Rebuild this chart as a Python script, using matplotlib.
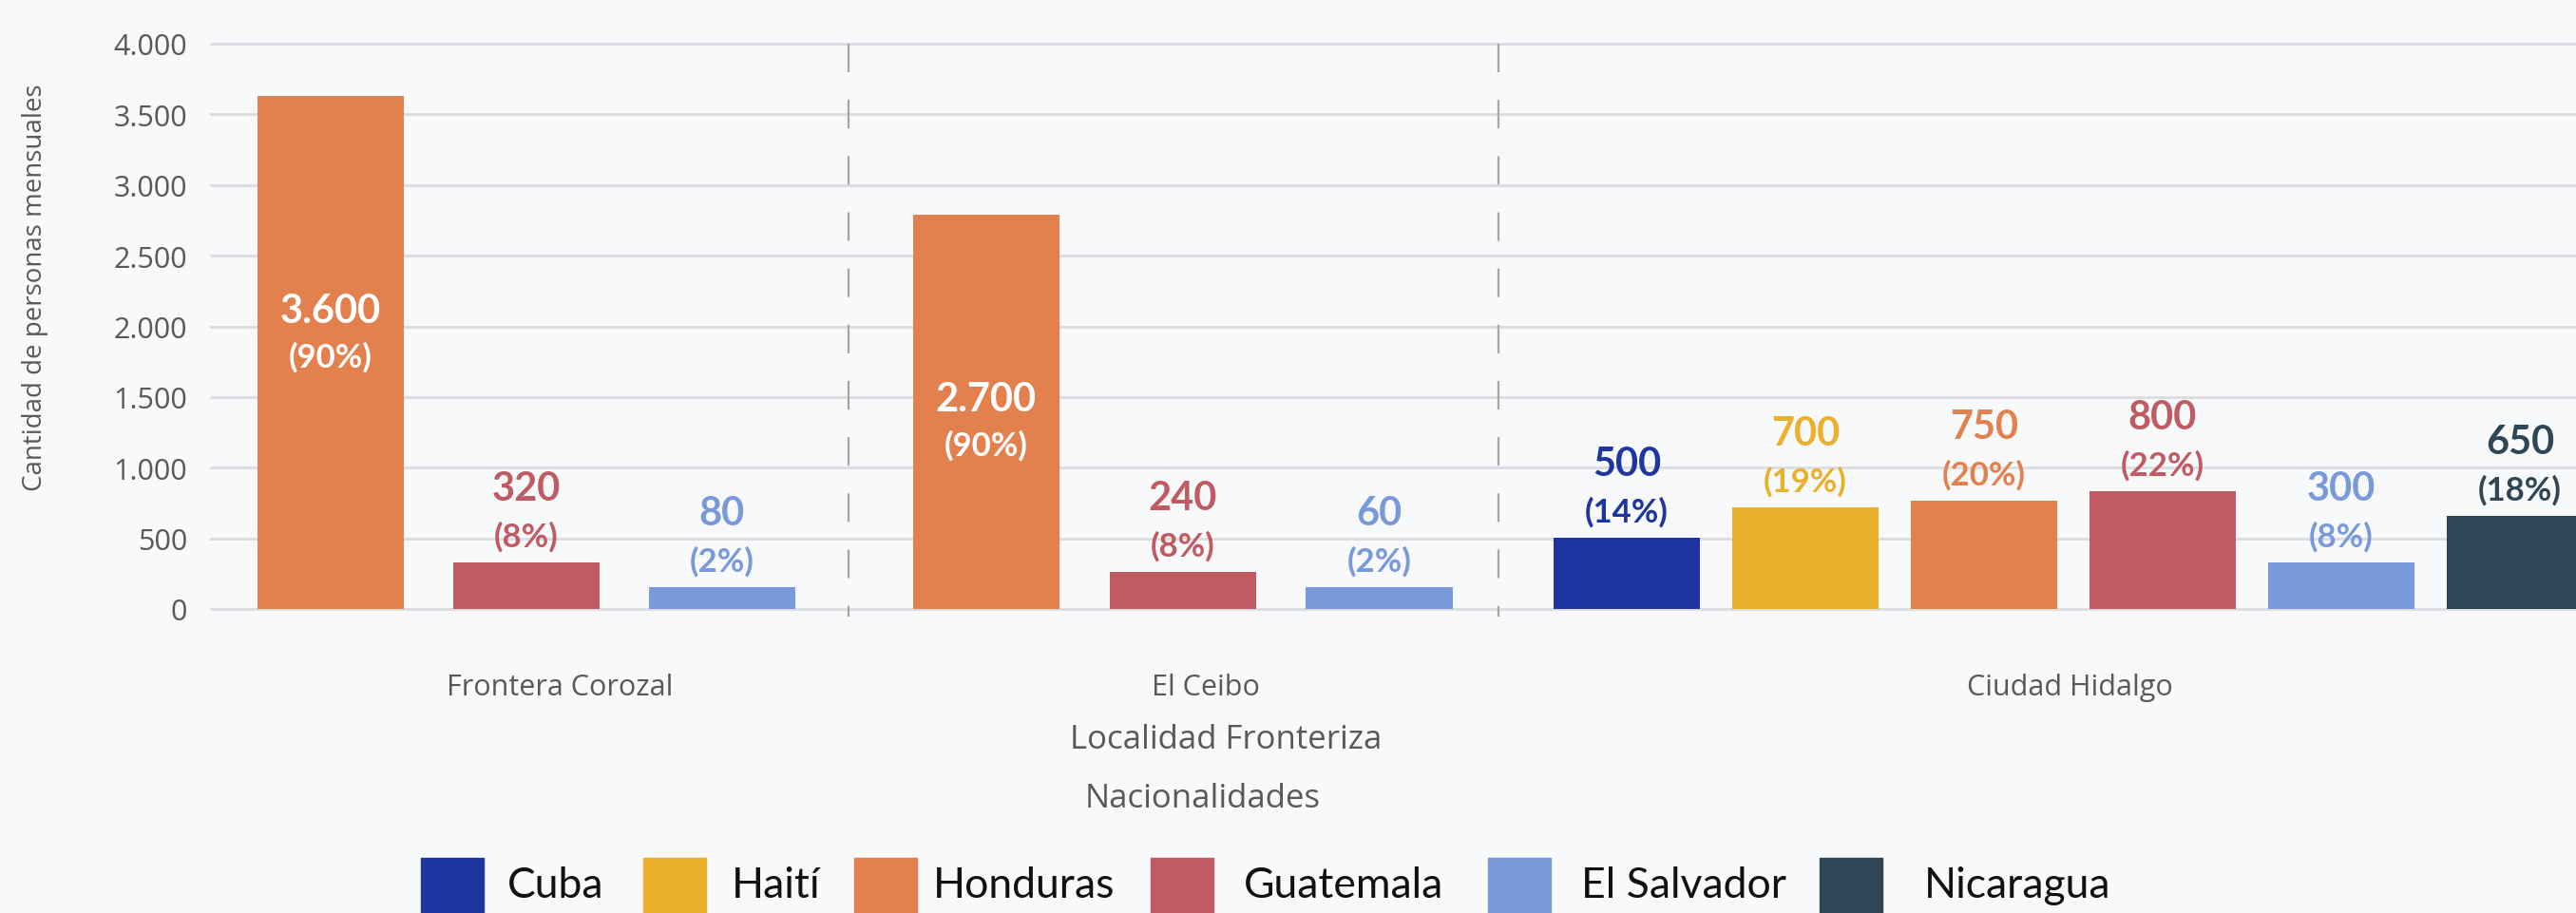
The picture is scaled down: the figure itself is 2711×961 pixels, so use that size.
import matplotlib
matplotlib.use('Agg')
import matplotlib.pyplot as plt
from matplotlib.patches import Rectangle
from matplotlib.transforms import blended_transform_factory

# data
groups = ['Frontera Corozal', 'El Ceibo', 'Ciudad Hidalgo']

frontera_nat = ['Honduras', 'Guatemala', 'El Salvador']
frontera_bar = [3630, 330, 155]
frontera_lbl = ['3.600', '320', '80']
frontera_pct = ['90%', '8%', '2%']

ceibo_nat = ['Honduras', 'Guatemala', 'El Salvador']
ceibo_bar = [2790, 262, 155]
ceibo_lbl = ['2.700', '240', '60']
ceibo_pct = ['90%', '8%', '2%']

hidalgo_nat = ['Cuba', 'Haití', 'Honduras', 'Guatemala', 'El Salvador', 'Nicaragua']
hidalgo_bar = [504, 719, 766, 833, 329, 659]
hidalgo_lbl = ['500', '700', '750', '800', '300', '650']
hidalgo_pct = ['14%', '19%', '20%', '22%', '8%', '18%']

legend_names = ['Cuba', 'Haití', 'Honduras', 'Guatemala', 'El Salvador', 'Nicaragua']
colors = {'Cuba': '#1f359f', 'Haití': '#eab02c', 'Honduras': '#e2814e',
          'Guatemala': '#c15b63', 'El Salvador': '#7899da', 'Nicaragua': '#2e4656'}

# layout
W, H = 2711, 962
bg = '#f8f9fb'
group_w = [3.57, 3.64, 6.43]
pitch = [1.096, 1.10, 1.0]
bar_shift = [-0.02, 0.05, 0.0]
label_shift = [0.17, 0.18, -0.02]
inside_shift = [14, -8]   # points, nudges the white labels inside the tall bars
bar_w = 0.82
gray = '#595959'

plt.rcParams['lines.scale_dashes'] = False
fig = plt.figure(figsize=(W / 100, H / 100), dpi=100, facecolor=bg)
ax = fig.add_axes([222 / W, 1 - 642 / H, (W - 222) / W, (642 - 47) / H])
ax.set_facecolor(bg)

data = [(frontera_nat, frontera_bar, frontera_lbl, frontera_pct),
        (ceibo_nat, ceibo_bar, ceibo_lbl, ceibo_pct),
        (hidalgo_nat, hidalgo_bar, hidalgo_lbl, hidalgo_pct)]

start = 0.0
seps = []
centers = []
for g, (nat, bars, lbls, pcts) in enumerate(data):
    mid = start + group_w[g] / 2
    centers.append(mid)
    n = len(bars)
    for i in range(n):
        x = mid + bar_shift[g] + (i - (n - 1) / 2) * pitch[g]
        c = colors[nat[i]]
        ax.bar(x, bars[i], width=bar_w, color=c, zorder=3)
        if bars[i] > 2000:
            dy = inside_shift[g]
            ax.annotate(lbls[i], (x, bars[i] / 2), xytext=(0, 18 + dy), textcoords='offset points',
                        ha='center', va='center', color='white', fontsize=30,
                        fontweight='bold', family='Lato', zorder=4)
            ax.annotate('(' + pcts[i] + ')', (x, bars[i] / 2), xytext=(0, -17 + dy),
                        textcoords='offset points', ha='center', va='center',
                        color='white', fontsize=25, fontweight='bold', family='Lato', zorder=4)
        else:
            ax.annotate(lbls[i], (x, bars[i]), xytext=(0, 56), textcoords='offset points',
                        ha='center', va='center', color=c, fontsize=30,
                        fontweight='bold', family='Lato', zorder=4)
            ax.annotate('(' + pcts[i] + ')', (x, bars[i]), xytext=(0, 20),
                        textcoords='offset points', ha='center', va='center',
                        color=c, fontsize=25, fontweight='bold', family='Lato', zorder=4)
    start += group_w[g]
    seps.append(start)

# dashed separators between groups
for s in seps[:-1]:
    ax.plot([s, s], [4000, -55], color='#a6a6a6', lw=1.6, ls=(0, (21.6, 21)),
            clip_on=False, zorder=2)

ax.set_xlim(0, (W - 222) / 188)
ax.set_ylim(0, 4000)
ax.set_yticks(range(0, 4001, 500))
ax.set_yticklabels([f'{v:,}'.replace(',', '.') for v in range(0, 4001, 500)],
                   family='Open Sans', fontsize=22, color=gray)
ax.tick_params(axis='y', length=0, pad=18)
ax.set_xticks([])
ax.grid(axis='y', color='#dadcdf', lw=2)
for gl in ax.get_ygridlines():
    gl.set_clip_on(False)
ax.set_axisbelow(True)
for sp in ax.spines.values():
    sp.set_visible(False)

# group labels
tr = blended_transform_factory(ax.transData, fig.transFigure)
for g, name in enumerate(groups):
    ax.text(centers[g] + label_shift[g], 1 - 732 / H, name, transform=tr, ha='center',
            va='baseline', family='Open Sans', fontsize=22, color=gray)

fig.text(1290 / W, 1 - 788 / H, 'Localidad Fronteriza', ha='center', va='baseline',
         family='Open Sans', fontsize=25, color=gray)
fig.text(1266 / W, 1 - 850 / H, 'Nacionalidades', ha='center', va='baseline',
         family='Open Sans', fontsize=25, color=gray)
fig.text(37 / W, 1 - 303 / H, 'Cantidad de personas mensuales', rotation=90,
         ha='center', va='center', family='Open Sans', fontsize=20, color=gray)

# legend drawn by hand
patch_x = [443, 677, 899, 1211, 1566, 1915]
text_x = [534, 770, 982, 1309, 1664, 2025]
for name, px, tx in zip(legend_names, patch_x, text_x):
    fig.add_artist(Rectangle((px / W, 1 - 975 / H), 66 / W, 71 / H,
                             transform=fig.transFigure, color=colors[name]))
    fig.text(tx / W, 1 - 945 / H, name, ha='left', va='baseline', family='Lato',
             fontsize=32, color='#111111')

fig.savefig('out.png', dpi=100, facecolor=bg)
